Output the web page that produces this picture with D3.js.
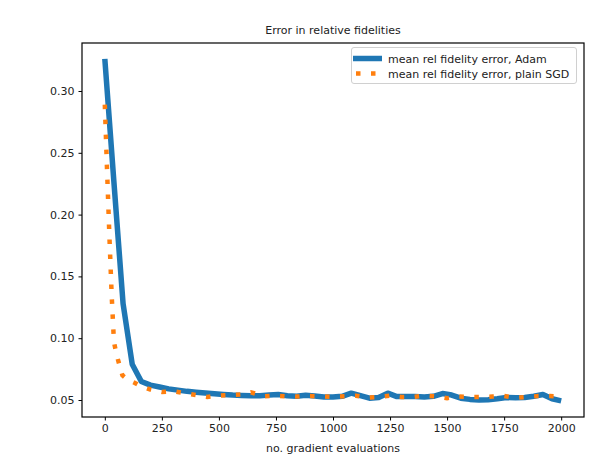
<!DOCTYPE html>
<html>
<head>
<meta charset="utf-8">
<script src="https://cdn.jsdelivr.net/npm/d3@7"></script>
<style>
  body { margin: 0; background: #fff; }
  text { font-family: "DejaVu Sans", sans-serif; }
</style>
</head>
<body>
<div id="chart"></div>
<script>
// Data
const adamX = [0, 40, 80, 120, 160, 200, 240, 280, 320, 360, 400, 440, 480, 520, 560, 600, 640, 680, 720, 760,
  800, 840, 880, 920, 960, 1000, 1040, 1080, 1120, 1160, 1200, 1240, 1280, 1320, 1360, 1400, 1440, 1480, 1520, 1560,
  1600, 1640, 1680, 1720, 1760, 1800, 1840, 1880, 1920, 1960, 2000];
const adamErr = [0.326, 0.226, 0.128, 0.079, 0.065, 0.062, 0.0605, 0.059, 0.058, 0.057, 0.0563, 0.0556, 0.055, 0.0545, 0.054, 0.0537, 0.0535, 0.0535, 0.054, 0.0545,
  0.0535, 0.053, 0.0538, 0.0532, 0.0525, 0.0525, 0.053, 0.0555, 0.0535, 0.0515, 0.052, 0.0555, 0.0528, 0.0528, 0.0528, 0.0525, 0.053, 0.0552, 0.054, 0.0515,
  0.0505, 0.05, 0.0502, 0.051, 0.052, 0.0518, 0.052, 0.053, 0.0545, 0.051, 0.0493];

const sgdX = [0, 10, 20, 30, 40, 50, 60, 77, 100, 130, 160, 200, 250, 300, 350, 400, 450, 500, 550, 600, 640, 700, 750,
  800, 850, 900, 950, 1000, 1050, 1100, 1150, 1200, 1250, 1300, 1350, 1400, 1450, 1500, 1550, 1600, 1650, 1700, 1750,
  1800, 1850, 1900, 1950, 2000];
const sgdErr = [0.289, 0.235, 0.183, 0.135, 0.097, 0.088, 0.081, 0.07, 0.0665, 0.064, 0.061, 0.0585, 0.0565, 0.0572, 0.0555, 0.054, 0.0525, 0.0535, 0.054, 0.0545, 0.0562, 0.053, 0.0535,
  0.053, 0.0528, 0.0532, 0.053, 0.0525, 0.053, 0.0535, 0.052, 0.0525, 0.0535, 0.0525, 0.0525, 0.0535, 0.053, 0.0515, 0.0528, 0.0525, 0.0525, 0.0528, 0.0532,
  0.0518, 0.0525, 0.0532, 0.0532, 0.053];

const xTicks = [0, 250, 500, 750, 1000, 1250, 1500, 1750, 2000];
const yTicks = [0.05, 0.10, 0.15, 0.20, 0.25, 0.30];
const seriesNames = ["mean rel fidelity error, Adam", "mean rel fidelity error, plain SGD"];

const width = 592, height = 461;
const plotLeft = 82, plotRight = 584, plotTop = 43, plotBottom = 417;
const blue = "#1f77b4", orange = "#ff7f0e";

const svg = d3.select("#chart").append("svg").attr("width", width).attr("height", height);

const x = d3.scaleLinear().domain([-100, 2100]).range([plotLeft, plotRight]);
const y = d3.scaleLinear().domain([0.03625, 0.33883]).range([plotBottom, plotTop]);

// clip to plot area
svg.append("defs").append("clipPath").attr("id", "clip")
  .append("rect").attr("x", plotLeft).attr("y", plotTop).attr("width", plotRight - plotLeft).attr("height", plotBottom - plotTop);

const line = d3.line().x(d => x(d[0])).y(d => y(d[1]));

const plot = svg.append("g").attr("clip-path", "url(#clip)");
plot.append("path")
  .datum(d3.zip(adamX, adamErr))
  .attr("d", line)
  .attr("fill", "none").attr("stroke", blue).attr("stroke-width", 5.5)
  .attr("stroke-linejoin", "round");
plot.append("path")
  .datum(d3.zip(sgdX, sgdErr))
  .attr("d", line)
  .attr("fill", "none").attr("stroke", orange).attr("stroke-width", 4.5)
  .attr("stroke-dasharray", "4.5,10.5");

// axes
const xAxis = d3.axisBottom(x).tickValues(xTicks).tickSize(3.5).tickPadding(4).tickFormat(d3.format("d"));
const yAxis = d3.axisLeft(y).tickValues(yTicks).tickSize(3.5).tickPadding(4).tickFormat(d3.format(".2f"));

svg.append("g").attr("transform", `translate(0,${plotBottom})`).call(xAxis)
  .call(g => g.select(".domain").remove());
svg.append("g").attr("transform", `translate(${plotLeft},0)`).call(yAxis)
  .call(g => g.select(".domain").remove());
svg.selectAll(".tick text").attr("font-size", 11).attr("fill", "#222").attr("font-family", "DejaVu Sans");
svg.selectAll(".tick line").attr("stroke", "#000");

// frame
svg.append("rect").attr("x", plotLeft).attr("y", plotTop).attr("width", plotRight - plotLeft).attr("height", plotBottom - plotTop)
  .attr("fill", "none").attr("stroke", "#000").attr("stroke-width", 1.2);

// title and label
svg.append("text").attr("x", (plotLeft + plotRight) / 2).attr("y", 34).attr("text-anchor", "middle")
  .attr("font-size", 11).attr("fill", "#222").text("Error in relative fidelities");
svg.append("text").attr("x", (plotLeft + plotRight) / 2).attr("y", 452).attr("text-anchor", "middle")
  .attr("font-size", 11).attr("fill", "#222").text("no. gradient evaluations");

// legend
const legend = svg.append("g");
legend.append("rect").attr("x", 351.5).attr("y", 47.5).attr("width", 225).attr("height", 36).attr("rx", 2.5)
  .attr("fill", "#fff").attr("fill-opacity", 0.8).attr("stroke", "#d0d0d0");
const rows = [
  { name: seriesNames[0], color: blue, w: 5.5, dash: null },
  { name: seriesNames[1], color: orange, w: 4.5, dash: "4.5,10.5" }
];
rows.forEach((r, i) => {
  const ly = 58.5 + i * 15;
  const l = legend.append("line").attr("x1", 353).attr("x2", 382).attr("y1", ly).attr("y2", ly)
    .attr("stroke", r.color).attr("stroke-width", r.w);
  if (r.dash) l.attr("stroke-dasharray", r.dash).attr("stroke-dashoffset", -3);
  legend.append("text").attr("x", 388).attr("y", ly + 4).attr("font-size", 11).attr("fill", "#222").text(r.name);
});
</script>
</body>
</html>
